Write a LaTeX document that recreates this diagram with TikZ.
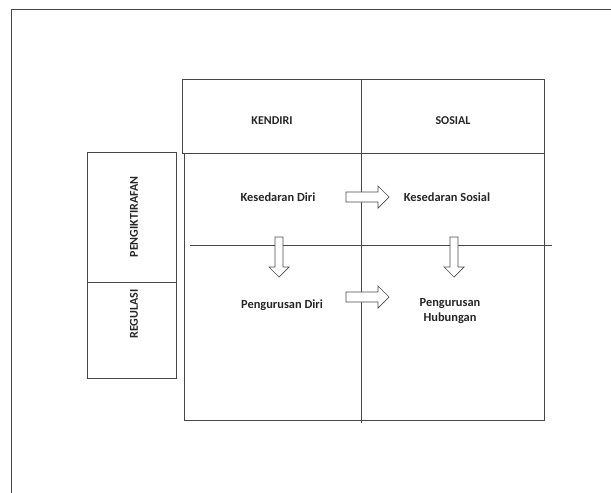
\documentclass[tikz,border=0pt]{standalone}
\usepackage{fontspec}
\setmainfont{Carlito}
\begin{document}
\begin{tikzpicture}[x=1pt,y=-1pt,
  ln/.style={draw=black!72,line width=0.9pt},
  lbl/.style={font=\bfseries\fontsize{12.4}{15}\selectfont,text=black!85,inner sep=0pt,align=center},
  hdr/.style={font=\bfseries\fontsize{12}{14}\selectfont,text=black!85,inner sep=0pt},
  side/.style={font=\bfseries\fontsize{12}{14}\selectfont,text=black!85,inner sep=0pt,rotate=90},
  barrow/.style={draw=black!70,line width=0.7pt,fill=white,line join=miter}]
\useasboundingbox (0,0) rectangle (611,493);
% outer frame (open)
\draw[ln] (611,9) -- (11,9) -- (11,493);
% header row
\draw[ln] (182,153) -- (182,79) -- (544,79) -- (544,153) -- cycle;
% main grid
\draw[ln] (184,153) rectangle (544,420);
\draw[ln] (361,79) -- (361,423);
\draw[ln] (190,245) -- (552,245);
% left box
\draw[ln] (87,152) rectangle (176,378);
\draw[ln] (87,282) -- (176,282);
% header texts
\node[hdr] (kendiri) at (272,121) {KENDIRI};
\node[hdr] (sosial) at (453,121) {SOSIAL};
% side texts
\node[side] (pengik) at (134,217) {PENGIKTIRAFAN};
\node[side] (regul) at (134,314) {REGULASI};
% quadrant texts
\node[lbl] (kd) at (278,197) {Kesedaran Diri};
\node[lbl] (ks) at (447,197) {Kesedaran Sosial};
\node[lbl] (pd) at (282,305) {Pengurusan Diri};
\node[lbl] (ph) at (450,311) {Pengurusan\\Hubungan};
% block arrows
\draw[barrow] (346,192) -- (378,192) -- (378,186) -- (389,197) -- (378,208) -- (378,202) -- (346,202) -- cycle;
\draw[barrow] (346,292) -- (378,292) -- (378,286) -- (389,297) -- (378,308) -- (378,302) -- (346,302) -- cycle;
\draw[barrow] (275,237) -- (275,267) -- (269,267) -- (279,277) -- (289,267) -- (283,267) -- (283,237) -- cycle;
\draw[barrow] (450,237) -- (450,267) -- (444,267) -- (454,277) -- (464,267) -- (458,267) -- (458,237) -- cycle;
\end{tikzpicture}
\end{document}
